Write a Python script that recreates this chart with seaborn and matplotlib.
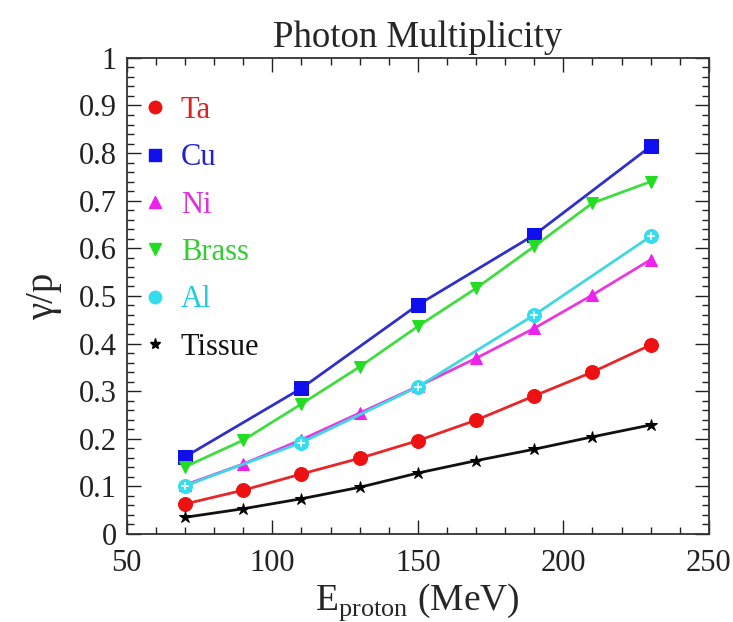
import pandas as pd
import matplotlib.pyplot as plt
import seaborn as sns
from matplotlib.lines import Line2D
from matplotlib.ticker import MultipleLocator, FuncFormatter

# %% data
energy_full = [70, 90, 110, 130, 150, 170, 190, 210, 230]
energy_half = [70, 110, 150, 190, 230]

ta = [0.063, 0.092, 0.126, 0.159, 0.196, 0.239, 0.290, 0.340, 0.397]
cu = [0.162, 0.306, 0.481, 0.628, 0.814]
ni = [0.103, 0.147, 0.198, 0.254, 0.310, 0.369, 0.432, 0.502, 0.576]
brass = [0.141, 0.197, 0.273, 0.351, 0.436, 0.516, 0.604, 0.695, 0.740]
al = [0.101, 0.192, 0.309, 0.460, 0.625]
tissue = [0.035, 0.053, 0.074, 0.098, 0.128, 0.154, 0.178, 0.204, 0.229]

materials = ['Ta', 'Cu', 'Ni', 'Brass', 'Al', 'Tissue']
series = {'Ta': (energy_full, ta), 'Cu': (energy_half, cu),
          'Ni': (energy_full, ni), 'Brass': (energy_full, brass),
          'Al': (energy_half, al), 'Tissue': (energy_full, tissue)}

line_colors = {'Ta': '#e8262a', 'Cu': '#3030c8', 'Ni': '#e838e0',
               'Brass': '#40dd40', 'Al': '#40d8e0', 'Tissue': '#111111'}
mark_colors = {'Ta': '#ee1111', 'Cu': '#1010ee', 'Ni': '#ee22ee',
               'Brass': '#22dd22', 'Al': '#33ddee', 'Tissue': '#000000'}
text_colors = {'Ta': '#dd2222', 'Cu': '#2222cc', 'Ni': '#dd33dd',
               'Brass': '#33cc33', 'Al': '#22ccdd', 'Tissue': '#111111'}
markers = {'Ta': 'o', 'Cu': 's', 'Ni': '^', 'Brass': 'v', 'Al': 'o', 'Tissue': '*'}
msizes = {'Ta': 10, 'Cu': 10, 'Ni': 9, 'Brass': 9, 'Al': 10, 'Tissue': 9}

rows = []
for m in materials:
    xs, ys = series[m]
    for x, y in zip(xs, ys):
        rows.append({'material': m, 'energy': x, 'yield': y})
df = pd.DataFrame(rows)

# %%
sns.set_style('ticks')
plt.rcParams['font.family'] = ['Liberation Serif', 'DejaVu Serif']
plt.rcParams['mathtext.fontset'] = 'custom'
plt.rcParams['mathtext.rm'] = 'Liberation Serif'

fig = plt.figure(figsize=(7.33, 6.22), dpi=100)
ax = fig.add_axes([0.173, 0.1415, 0.794, 0.7655])

for m in materials:
    d = df[df['material'] == m]
    sns.lineplot(data=d, x='energy', y='yield', ax=ax, color=line_colors[m],
                 linewidth=2, marker=markers[m], markersize=msizes[m],
                 markerfacecolor=mark_colors[m], markeredgecolor=mark_colors[m],
                 legend=False)
# white cross inside the Al markers
d_al = df[df['material'] == 'Al']
ax.scatter(d_al['energy'], d_al['yield'], marker='+', s=36, color='white',
           linewidths=1.2, zorder=5)

ax.set_xlim(50, 250)
ax.set_ylim(0, 1)
ax.xaxis.set_major_locator(MultipleLocator(50))
ax.xaxis.set_minor_locator(MultipleLocator(10))
ax.yaxis.set_major_locator(MultipleLocator(0.1))
ax.yaxis.set_minor_locator(MultipleLocator(0.02))
ax.yaxis.set_major_formatter(FuncFormatter(lambda v, p: '%g' % round(v, 2)))
ax.tick_params(which='both', direction='in', top=True, right=True,
               labelsize=22, colors='#222222', width=1)
ax.tick_params(which='major', length=10)
ax.tick_params(which='minor', length=5)
ax.tick_params(axis='x', which='major', pad=11)
ax.tick_params(axis='y', which='major', pad=7)
for s in ax.spines.values():
    s.set_linewidth(1.3)
    s.set_color('#333333')

ax.set_xlabel(r'E$_{\rm proton}$ (MeV)', fontsize=27, labelpad=2)
ax.set_ylabel('γ/p', fontsize=28, labelpad=12)
ax.set_title('Photon Multiplicity', fontsize=26.5, pad=8)

handles = []
for m in materials:
    handles.append(Line2D([], [], linestyle='none', marker=markers[m],
                          markersize=msizes[m] - 1, color=mark_colors[m]))
leg = ax.legend(handles, materials, loc='upper left', bbox_to_anchor=(-0.015, 0.965),
                frameon=False, fontsize=22, handlelength=1.0, handletextpad=0.35,
                labelspacing=0.6, borderaxespad=0.3)
for t, m in zip(leg.get_texts(), materials):
    t.set_color(text_colors[m])

plt.savefig('out.png', dpi=100)
